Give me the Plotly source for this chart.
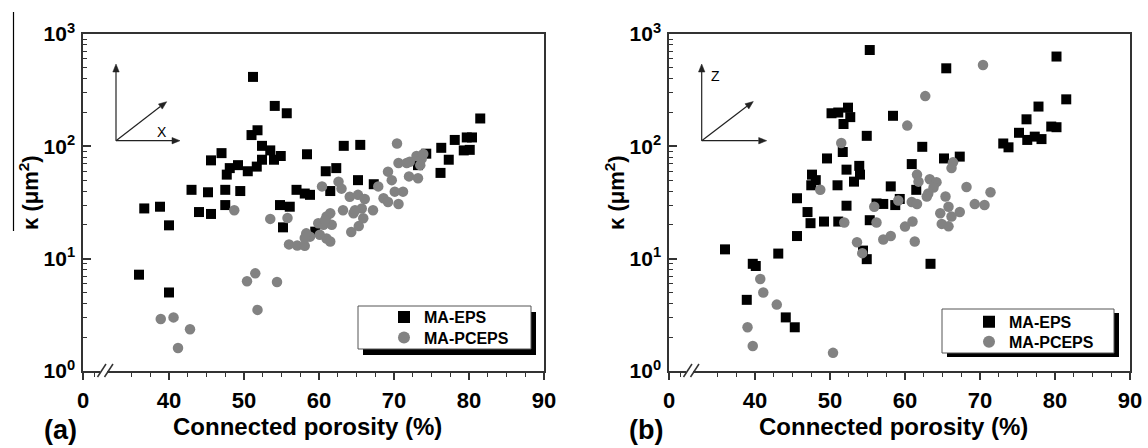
import math
import plotly.graph_objects as go

W, H = 1148, 448

# ---------------- data ----------------
# panel (a): direction X
a_eps_por = [36.0, 36.7, 38.8, 40.0, 40.0, 43.0, 44.0, 45.2, 45.6, 45.6, 47.0, 47.5, 47.5, 47.7, 48.1,
             49.2, 49.5, 50.5, 51.2, 51.0, 51.8, 52.4, 51.7, 52.4, 53.5, 54.0, 54.9, 54.1, 55.7, 54.8,
             56.1, 55.2, 57.0, 58.1, 58.8, 58.4, 59.5, 60.9, 62.3, 61.5, 63.3, 65.5, 65.2, 67.3, 73.2,
             74.3, 76.3, 77.3, 76.2, 78.1, 79.7, 80.4, 79.3, 80.1, 81.5]
a_eps_k = [7.2, 28, 29, 19.8, 5.0, 41, 26, 39, 25, 75, 87, 41, 30, 56, 64,
           68, 40, 60, 415, 126, 139, 101, 66, 76, 92, 76, 82, 229, 197, 30,
           29, 19, 41, 38, 37, 85, 17.4, 60, 64, 40, 101, 103, 50, 46, 68,
           86, 97, 76, 58, 114, 120, 120, 92, 93, 177]
a_pceps_por = [38.9, 40.6, 41.2, 42.8, 48.7, 50.4, 51.5, 51.8, 54.4, 53.5, 55.8, 56.0, 57.1, 58.1, 58.8,
               58.3, 59.9, 60.4, 60.6, 61.0, 61.0, 60.1, 61.5, 61.7, 61.5, 62.6, 63.0, 63.2, 64.1, 64.3,
               64.6, 65.2, 65.3, 65.7, 65.9, 66.1, 67.2, 67.9, 68.6, 69.2, 69.2, 69.7, 70.4, 70.6, 70.6,
               71.2, 70.1, 71.7, 72.0, 73.0, 73.2, 73.7, 73.9, 73.5, 72.1, 64.8, 60.8, 58.1]
a_pceps_k = [2.9, 3.0, 1.6, 2.35, 27, 6.3, 7.4, 3.5, 6.2, 22.6, 23, 13.4, 13.1, 13.0, 15.7,
             16.8, 20.7, 44, 20, 23.7, 15.1, 16.3, 14.2, 20, 25.4, 48.5, 42, 27, 35.6, 17.3,
             25.4, 37, 19.5, 28, 22.9, 34, 27, 44, 34.5, 59.5, 32, 50, 106, 71, 30.7,
             39.5, 39.5, 71, 54, 82, 52, 78, 85.5, 68, 73, 27, 22, 15.3]

# panel (b): direction Z
b_eps_por = [36.0, 39.7, 40.1, 38.9, 43.1, 44.1, 45.3, 45.6, 47.4, 49.2, 51.1, 47.0, 45.6, 47.5, 48.1,
             47.6, 49.6, 51.0, 52.2, 51.7, 53.9, 54.0, 53.2, 52.2, 50.2, 51.1, 52.4, 52.7, 51.8, 54.9,
             58.4, 58.1, 55.3, 56.2, 57.1, 58.7, 59.3, 54.9, 54.4, 55.3, 65.5, 80.2, 81.5, 77.8, 76.2,
             75.2, 76.3, 77.3, 78.2, 79.5, 80.2, 73.1, 73.8, 62.3, 60.9, 65.2, 67.3, 61.5, 63.4]
b_eps_k = [12.1, 9.0, 8.6, 4.3, 11.1, 3.0, 2.45, 15.9, 20.7, 21.4, 21.4, 26, 34.5, 45, 50,
           56, 78, 45, 62, 89, 67, 56, 48.5, 29.6, 197, 200, 221, 182, 158, 124,
           187, 44, 22, 31, 30.7, 30, 34, 9.9, 11.8, 720, 495, 630, 262, 226, 174,
           132, 114, 122, 116, 150, 148, 106, 98, 99, 69.5, 78, 81, 41, 9.0]
b_pceps_por = [39.0, 39.7, 40.7, 41.1, 42.9, 50.4, 51.9, 53.6, 54.3, 51.5, 48.7, 55.9, 56.2, 57.1, 58.1,
               59.1, 60.0, 60.3, 70.4, 62.7, 66.4, 66.2, 61.6, 61.8, 63.3, 64.2, 63.8, 63.1, 62.9, 68.2,
               71.4, 65.4, 65.8, 67.3, 69.3, 70.6, 64.7, 66.2, 64.9, 65.8, 61.0, 61.3, 60.9, 61.6]
b_pceps_k = [2.45, 1.67, 6.6, 5.0, 3.9, 1.45, 21, 14, 11.2, 107, 41, 29, 21, 14.8, 15.9,
             33, 19.3, 153, 530, 280, 72, 64, 56, 48.5, 51, 48, 43, 38, 35.7, 43.5,
             39, 35.7, 29, 26, 30.6, 30, 25.4, 23.7, 20.4, 19.4, 21.4, 14.2, 32, 30.7]

series_names = ["MA-EPS", "MA-PCEPS"]
panel_labels = ["(a)", "(b)"]
direction_labels = ["X", "Z"]
x_title = "Connected porosity (%)"
y_title = "κ (μm<sup>2</sup>)"

X_MIN, X_MAX = 28.53, 90
x_tick_vals = [X_MIN, 40, 50, 60, 70, 80, 90]
x_tick_text = ["0", "40", "50", "60", "70", "80", "90"]
x_minor_vals = [30, 35, 37.5, 42.5, 45, 47.5, 52.5, 55, 57.5, 62.5, 65, 67.5,
                72.5, 75, 77.5, 82.5, 85, 87.5]
y_tick_vals = [1, 10, 100, 1000]
y_tick_text = ["10<sup>0</sup>", "10<sup>1</sup>", "10<sup>2</sup>", "10<sup>3</sup>"]
y_minor_vals = [m * d for d in (1, 10, 100) for m in range(2, 10)]

# ---------------- styling ----------------
FONT = "Liberation Sans, Arial, sans-serif"
BLACK = "#000000"
GREY = "#828282"
AXC = "#333333"


def PX(x):
    return x / W


def PY(y):
    return 1 - y / H


panels = [
    dict(left=83, right=544, eps=(a_eps_por, a_eps_k), pc=(a_pceps_por, a_pceps_k)),
    dict(left=669, right=1130, eps=(b_eps_por, b_eps_k), pc=(b_pceps_por, b_pceps_k)),
]
TOP, BOTTOM = 34, 371

# legend frames (pixel layout) and per-entry anchor positions
box_geo = [
    dict(x0=358, y0=306, x1=531, y1=349, dx=5, dy=6, mx=402, my=(318.7, 339)),
    dict(x0=942, y0=309, x1=1114, y1=353, dx=5, dy=4, mx=987, my=(323.3, 343.3)),
]

fig = go.Figure()
leg_idx = 1
legend_layouts = {}
legend_font = dict(family=FONT, size=16, color=BLACK, weight="bold")
for i, p in enumerate(panels):
    xa = "x" if i == 0 else "x2"
    ya = "y" if i == 0 else "y2"
    b = box_geo[i]
    for j, (data, sym, col, sz) in enumerate(((p["eps"], "square", BLACK, 10),
                                              (p["pc"], "circle", GREY, 10.5))):
        lg = "legend" if leg_idx == 1 else f"legend{leg_idx}"
        fig.add_trace(go.Scatter(x=data[0], y=data[1], mode="markers", name=series_names[j],
                                 marker=dict(symbol=sym, size=sz, color=col, line=dict(width=0)),
                                 xaxis=xa, yaxis=ya, legend=lg, showlegend=True))
        legend_layouts[lg] = dict(x=PX(b["mx"] - 18), y=PY(b["my"][j] - 18.5), xanchor="left", yanchor="top",
                                  bgcolor="rgba(0,0,0,0)", borderwidth=0, font=legend_font,
                                  itemsizing="constant")
        leg_idx += 1


def xaxis_cfg(p, anchor):
    return dict(domain=[PX(p["left"]), PX(p["right"])], range=[X_MIN, X_MAX], anchor=anchor,
                tickmode="array", tickvals=x_tick_vals, ticktext=x_tick_text,
                ticks="outside", ticklen=7, tickwidth=1.5, tickcolor=AXC,
                minor=dict(tickmode="array", tickvals=x_minor_vals, ticks="outside",
                           ticklen=4, tickwidth=1.2, tickcolor=AXC),
                showline=True, linecolor=AXC, linewidth=1.5, mirror=True,
                showgrid=False, zeroline=False,
                tickfont=dict(family=FONT, size=22, color=BLACK, weight="bold"),
                automargin=False, ticklabelstandoff=2, fixedrange=True)


def yaxis_cfg(anchor):
    return dict(domain=[PY(BOTTOM), PY(TOP)], type="log", range=[0, 3], anchor=anchor,
                tickmode="array", tickvals=y_tick_vals, ticktext=y_tick_text,
                ticks="inside", ticklen=8, tickwidth=1.5, tickcolor=AXC,
                minor=dict(tickmode="array", tickvals=y_minor_vals, ticks="inside",
                           ticklen=4, tickwidth=1.2, tickcolor=AXC),
                showline=True, linecolor=AXC, linewidth=1.5, mirror=True,
                showgrid=False, zeroline=False,
                tickfont=dict(family=FONT, size=21, color=BLACK, weight="bold"),
                automargin=False, ticklabelstandoff=2, fixedrange=True)


def arrow_shapes(x0, y0, x1, y1, color="#222222", head_len=8.0, head_w=3.2):
    dx, dy = x1 - x0, y1 - y0
    n = math.hypot(dx, dy)
    ux, uy = dx / n, dy / n
    bx, by = x1 - ux * head_len, y1 - uy * head_len
    px_, py_ = -uy * head_w, ux * head_w
    line = dict(type="line", xref="paper", yref="paper", x0=PX(x0), y0=PY(y0), x1=PX(bx), y1=PY(by),
                line=dict(color=color, width=1.2), layer="above")
    path = (f"M {PX(x1)} {PY(y1)} L {PX(bx + px_)} {PY(by + py_)} "
            f"L {PX(bx - px_)} {PY(by - py_)} Z")
    head = dict(type="path", xref="paper", yref="paper", path=path, fillcolor=color,
                line=dict(color=color, width=0.5), layer="above")
    return [line, head]


shapes = []
annotations = []

arrow_geo = [
    dict(ox=116, oy=140.7, up=64, rx=180, dxp=166.7, dyp=101.7, lx=161.5, ly=131.5),
    dict(ox=701.7, oy=140.7, up=64, rx=766.7, dxp=753.3, dyp=101.5, lx=715.5, ly=76),
]

for i, p in enumerate(panels):
    L = p["left"]
    # axis break marks
    shapes.append(dict(type="rect", xref="paper", yref="paper", x0=PX(L + 17), x1=PX(L + 24),
                       y0=PY(373.5), y1=PY(368.5), fillcolor="white", line=dict(width=0), layer="above"))
    for off in (0, 7):
        shapes.append(dict(type="line", xref="paper", yref="paper",
                           x0=PX(L + 14.5 + off), y0=PY(377), x1=PX(L + 23 + off), y1=PY(364),
                           line=dict(color=AXC, width=1.5), layer="above"))
    # legend shadow and frame
    b = box_geo[i]
    shapes.append(dict(type="rect", xref="paper", yref="paper", x0=PX(b["x0"] + b["dx"]),
                       x1=PX(b["x1"] + b["dx"]), y0=PY(b["y1"] + b["dy"]), y1=PY(b["y0"] + b["dy"]),
                       fillcolor="black", line=dict(width=0), layer="above"))
    shapes.append(dict(type="rect", xref="paper", yref="paper", x0=PX(b["x0"]), x1=PX(b["x1"]),
                       y0=PY(b["y1"]), y1=PY(b["y0"]), fillcolor="white",
                       line=dict(color="#555555", width=1), layer="above"))
    # direction sketch
    g = arrow_geo[i]
    for tipx, tipy in ((g["ox"], g["up"]), (g["rx"], g["oy"]), (g["dxp"], g["dyp"])):
        shapes.extend(arrow_shapes(g["ox"], g["oy"], tipx, tipy))
    annotations.append(dict(xref="paper", yref="paper", x=PX(g["lx"]), y=PY(g["ly"]),
                            text=direction_labels[i], showarrow=False, xanchor="center", yanchor="middle",
                            font=dict(family=FONT, size=14, color=BLACK)))
    # x title
    annotations.append(dict(xref="paper", yref="paper", x=PX((p["left"] + p["right"]) / 2 - 6), y=PY(426),
                            text=x_title, showarrow=False, xanchor="center", yanchor="middle",
                            font=dict(family=FONT, size=24, color=BLACK, weight="bold")))
    # y title
    annotations.append(dict(xref="paper", yref="paper", x=PX(L - 54), y=PY(193),
                            text=y_title, showarrow=False, textangle=-90, xanchor="center", yanchor="middle",
                            font=dict(family=FONT, size=22, color=BLACK, weight="bold")))
    # panel label
    annotations.append(dict(xref="paper", yref="paper", x=PX(L - 23), y=PY(430),
                            text=panel_labels[i], showarrow=False, xanchor="center", yanchor="middle",
                            font=dict(family=FONT, size=27, color=BLACK, weight="bold")))

# stray vertical rule at the left edge of the original figure
shapes.append(dict(type="line", xref="paper", yref="paper", x0=PX(13.5), x1=PX(13.5), y0=PY(12), y1=PY(231),
                   line=dict(color="black", width=1.2), layer="above"))

fig.update_layout(
    width=W, height=H, margin=dict(l=0, r=0, t=0, b=0),
    paper_bgcolor="white", plot_bgcolor="white",
    xaxis=xaxis_cfg(panels[0], "y"), yaxis=yaxis_cfg("x"),
    xaxis2=xaxis_cfg(panels[1], "y2"), yaxis2=yaxis_cfg("x2"),
    showlegend=True,
    shapes=shapes, annotations=annotations,
    **legend_layouts,
)

fig.write_html("out.html")
